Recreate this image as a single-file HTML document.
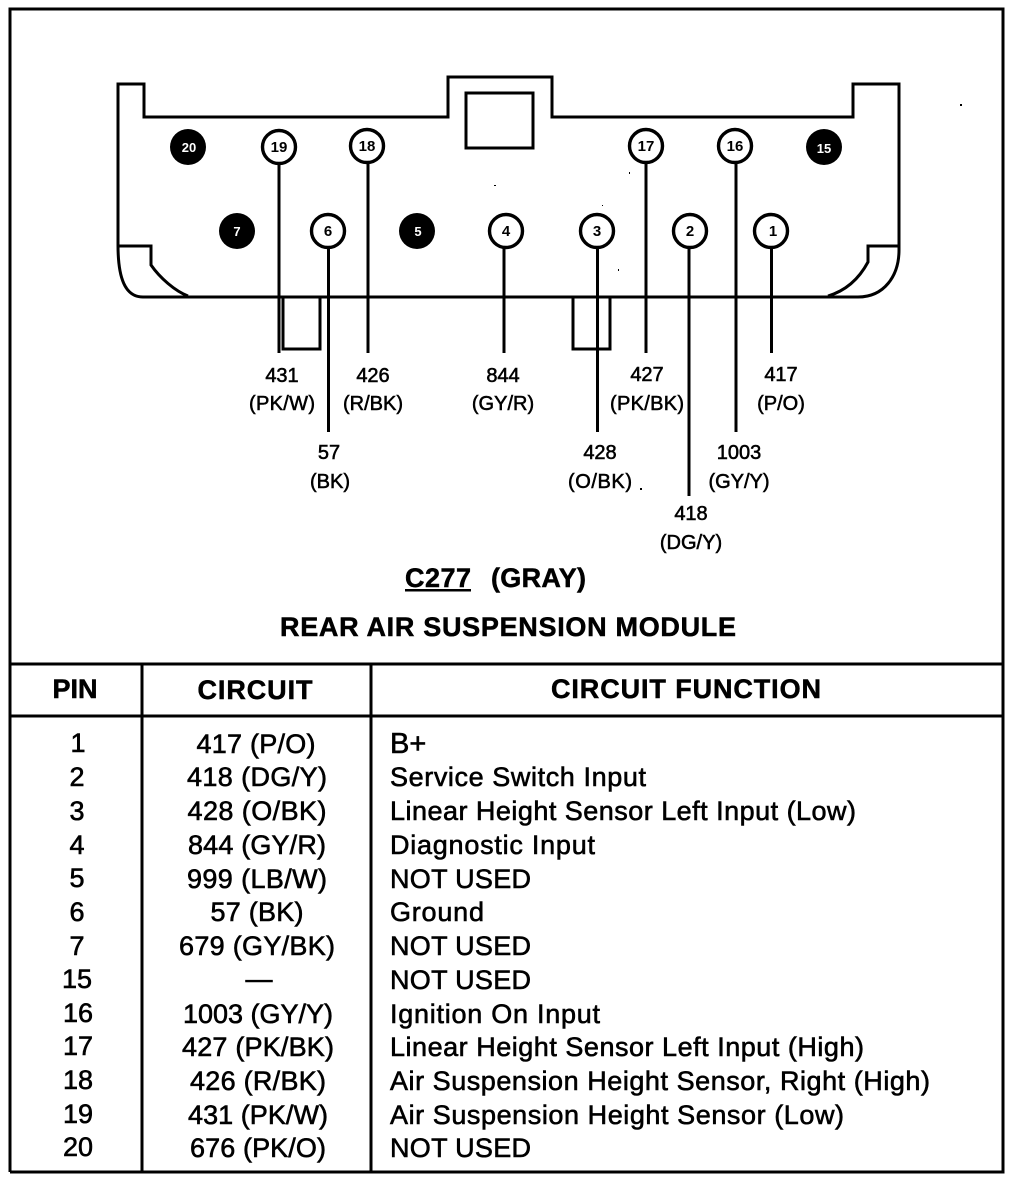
<!DOCTYPE html>
<html><head><meta charset="utf-8"><style>
html,body{margin:0;padding:0;background:#fff}
svg{display:block}
text{font-family:"Liberation Sans",Arial,sans-serif;fill:#000}
.l{font-size:20px;text-anchor:middle;stroke:#000;stroke-width:.55px}
.n{font-size:15px;text-anchor:middle;font-weight:bold}
.w{fill:#fff;font-size:13px;text-anchor:middle;font-weight:bold}
.h{font-size:27px;font-weight:bold;text-anchor:middle;stroke:#000;stroke-width:.5px}
.p{font-size:27px;text-anchor:middle;stroke:#000;stroke-width:.6px}
.f{font-size:27px;stroke:#000;stroke-width:.6px}
.s{fill:none;stroke:#000;stroke-width:3px}
.t{fill:#fff;stroke:#000;stroke-width:3.4px}
</style></head><body>
<svg width="1024" height="1180" viewBox="0 0 1024 1180" xmlns="http://www.w3.org/2000/svg">
<rect width="1024" height="1180" fill="#fff"/>
<path class="s" d="M10 1172V9H1003V1172H10"/>
<!-- connector -->
<path class="s" d="M144 84H118V245C118 278 125 297 143 297H858C884 297 899 276 899 250V84H853V117H552V77H448V117H144Z"/>
<rect class="s" x="466" y="93" width="67" height="55" fill="#fff"/>
<path class="s" d="M118 246H151V265C160 278 175 291 188 296"/>
<path class="s" d="M899 246H868V262C860 277 848 290 828 296"/>
<path class="s" d="M283 297V349H320V297"/>
<path class="s" d="M573 297V349H610V297"/>
<!-- wires -->
<g class="s" stroke-width="3">
<path d="M279 160V353M368 160V353M328.500 245V432M504 245V353M597.500 245V432M646 160V353M689 245V496M736 160V432M771.500 245V353"/>
</g>
<!-- filled pins -->
<circle cx="188" cy="147" r="18"/><text class="w" x="189" y="152">20</text>
<circle cx="824" cy="147" r="18"/><text class="w" x="824" y="153">15</text>
<circle cx="237" cy="231" r="18"/><text class="w" x="237" y="236">7</text>
<circle cx="417" cy="231" r="18"/><text class="w" x="418" y="236">5</text>
<!-- open pins -->
<circle class="t" cx="279" cy="147" r="16.500"/><text class="n" x="279" y="152">19</text>
<circle class="t" cx="367" cy="146" r="16.500"/><text class="n" x="367" y="151">18</text>
<circle class="t" cx="646" cy="146" r="16.500"/><text class="n" x="646" y="151">17</text>
<circle class="t" cx="735" cy="146" r="16.500"/><text class="n" x="735" y="151">16</text>
<circle class="t" cx="328" cy="231" r="16.500"/><text class="n" x="328" y="236">6</text>
<circle class="t" cx="506" cy="231" r="16.500"/><text class="n" x="506" y="236">4</text>
<circle class="t" cx="597" cy="231" r="16.500"/><text class="n" x="597" y="236">3</text>
<circle class="t" cx="690" cy="231" r="16.500"/><text class="n" x="690" y="236">2</text>
<circle class="t" cx="771" cy="231" r="16.500"/><text class="n" x="773" y="236">1</text>
<!-- wire labels -->
<text class="l" x="282" y="382">431</text><text class="l" x="282" y="410" textLength="66">(PK/W)</text>
<text class="l" x="373" y="382">426</text><text class="l" x="373" y="410">(R/BK)</text>
<text class="l" x="503" y="382">844</text><text class="l" x="503" y="410">(GY/R)</text>
<text class="l" x="647" y="381">427</text><text class="l" x="647" y="410" textLength="74">(PK/BK)</text>
<text class="l" x="781" y="381">417</text><text class="l" x="781" y="410">(P/O)</text>
<text class="l" x="329" y="459">57</text><text class="l" x="330" y="488">(BK)</text>
<text class="l" x="600" y="459">428</text><text class="l" x="600" y="488" textLength="64">(O/BK)</text>
<rect x="640" y="488" width="2" height="2"/>
<text class="l" x="739" y="459">1003</text><text class="l" x="739" y="488">(GY/Y)</text>
<text class="l" x="691" y="520">418</text><text class="l" x="691" y="549">(DG/Y)</text>
<!-- titles -->
<text class="h" x="405" y="587" style="text-anchor:start" textLength="66">C277</text>
<rect x="405" y="589" width="66" height="2.500"/>
<text class="h" x="491" y="587" style="text-anchor:start" textLength="95">(GRAY)</text>
<text class="h" x="508" y="636" textLength="456">REAR AIR SUSPENSION MODULE</text>
<!-- table -->
<path class="s" d="M10 664H1003M10 716H1003M142 664V1172M371 664V1172"/>
<text class="h" x="75" y="698">PIN</text>
<text class="h" x="255" y="699" textLength="115">CIRCUIT</text>
<text class="h" x="686" y="698" textLength="270">CIRCUIT FUNCTION</text>
<text class="p" x="78" y="752">1</text><text class="p" x="256" y="753" textLength="119">417 (P/O)</text>
<text class="p" x="77" y="786">2</text><text class="p" x="257" y="786" textLength="140">418 (DG/Y)</text>
<text class="p" x="77" y="820">3</text><text class="p" x="257" y="820" textLength="139">428 (O/BK)</text>
<text class="p" x="77" y="854">4</text><text class="p" x="257" y="854" textLength="138">844 (GY/R)</text>
<text class="p" x="77" y="887">5</text><text class="p" x="257" y="888" textLength="140">999 (LB/W)</text>
<text class="p" x="77" y="921">6</text><text class="p" x="257" y="921" textLength="93">57 (BK)</text>
<text class="p" x="77" y="955">7</text><text class="p" x="257" y="955" textLength="156">679 (GY/BK)</text>
<text class="p" x="77" y="988">15</text><text class="p" x="259" y="988">—</text>
<text class="p" x="78" y="1022">16</text><text class="p" x="258" y="1023" textLength="150">1003 (GY/Y)</text>
<text class="p" x="78" y="1055">17</text><text class="p" x="258" y="1056" textLength="152">427 (PK/BK)</text>
<text class="p" x="78" y="1089">18</text><text class="p" x="258" y="1090" textLength="136">426 (R/BK)</text>
<text class="p" x="78" y="1123">19</text><text class="p" x="258" y="1124" textLength="140">431 (PK/W)</text>
<text class="p" x="78" y="1156">20</text><text class="p" x="258" y="1157" textLength="136">676 (PK/O)</text>
<text class="f" x="390" y="753" style="font-size:29px">B+</text>
<text class="f" x="390" y="786" textLength="256">Service Switch Input</text>
<text class="f" x="390" y="820" textLength="466">Linear Height Sensor Left Input (Low)</text>
<text class="f" x="390" y="854" textLength="205">Diagnostic Input</text>
<text class="f" x="390" y="888" textLength="141">NOT USED</text>
<text class="f" x="390" y="921" textLength="94">Ground</text>
<text class="f" x="390" y="955" textLength="141">NOT USED</text>
<text class="f" x="390" y="989" textLength="141">NOT USED</text>
<text class="f" x="390" y="1023" textLength="210">Ignition On Input</text>
<text class="f" x="390" y="1056" textLength="474">Linear Height Sensor Left Input (High)</text>
<text class="f" x="390" y="1090" textLength="540">Air Suspension Height Sensor, Right (High)</text>
<text class="f" x="390" y="1124" textLength="454">Air Suspension Height Sensor (Low)</text>
<text class="f" x="390" y="1157" textLength="141">NOT USED</text>
<!-- specks -->
<rect x="960" y="104" width="2" height="2"/>
<rect x="494" y="185" width="2" height="1"/>
<rect x="602" y="205" width="1" height="1"/>
<rect x="618" y="269" width="1" height="2"/>
<rect x="629" y="172" width="1" height="2"/>
</svg>
</body></html>
